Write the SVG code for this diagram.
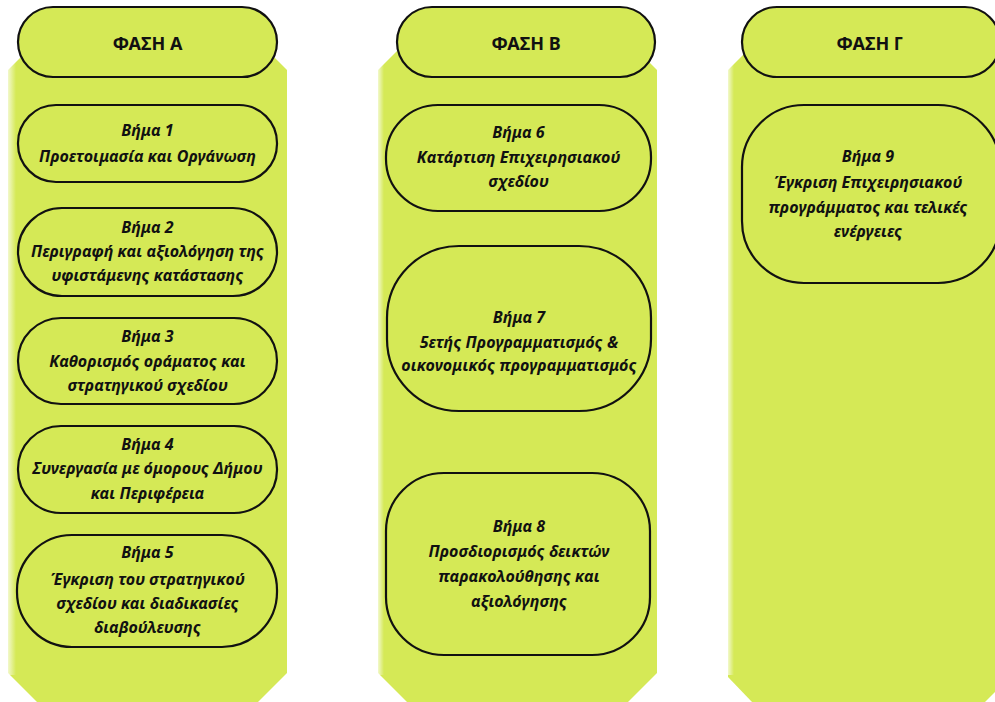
<svg xmlns="http://www.w3.org/2000/svg" width="995" height="702" viewBox="0 0 995 702">
<defs>
<linearGradient id="edge" x1="0" y1="0" x2="1" y2="0">
<stop offset="0" stop-color="#ffffff" stop-opacity="0.7"/>
<stop offset="1" stop-color="#ffffff" stop-opacity="0"/>
</linearGradient>
</defs>
<style>
.col{fill:#d5e956;}
.pill{fill:#d5e956;stroke:#111;stroke-width:2.2;}
.ph{font-family:"Noto Sans","Open Sans",sans-serif;font-weight:bold;font-size:18px;fill:#111;text-anchor:middle;}
.st{font-family:"Noto Sans","Open Sans",sans-serif;font-weight:bold;font-style:italic;font-size:16px;fill:#111;text-anchor:middle;}
</style>
<rect width="995" height="702" fill="#ffffff"/>
<g id="columns">
<polygon class="col" points="8,70 28,50 267,50 287,70 287,673 258,702 37,702 8,673"/>
<polygon class="col" points="378,70 398,50 637,50 657,70 657,673 628,702 407,702 378,673"/>
<polygon class="col" points="728,70 748,50 990,50 1010,70 1010,677 985,702 752,702 728,677"/>
<rect x="8" y="60" width="8" height="615" fill="url(#edge)"/>
<rect x="378" y="60" width="6" height="615" fill="url(#edge)"/>
<rect x="728" y="60" width="6" height="615" fill="url(#edge)"/>
</g>
<g id="connectors"></g>
<g id="phaseA"><rect class="pill" x="18" y="7" width="259" height="70" rx="35"/><text class="ph" x="147.5" y="50">ΦΑΣΗ Α</text></g>
<g id="phaseB"><rect class="pill" x="397" y="7" width="258" height="70" rx="35"/><text class="ph" x="526" y="50">ΦΑΣΗ Β</text></g>
<g id="phaseC"><rect class="pill" x="742" y="7" width="258" height="70" rx="35"/><text class="ph" x="870" y="50">ΦΑΣΗ Γ</text></g>
<g id="step1"><rect class="pill" x="18" y="105" width="259" height="77" rx="38"/>
<text class="st"><tspan x="147.5" y="136">Βήμα 1</tspan><tspan x="147.5" y="162">Προετοιμασία και Οργάνωση</tspan></text></g>
<g id="step2"><rect class="pill" x="18" y="208" width="259" height="88" rx="44"/>
<text class="st"><tspan x="147.5" y="233">Βήμα 2</tspan><tspan x="147.5" y="257">Περιγραφή και αξιολόγηση της</tspan><tspan x="147.5" y="281">υφιστάμενης κατάστασης</tspan></text></g>
<g id="step3"><rect class="pill" x="18" y="318" width="259" height="86" rx="43"/>
<text class="st"><tspan x="147.5" y="342">Βήμα 3</tspan><tspan x="147.5" y="367">Καθορισμός οράματος και</tspan><tspan x="147.5" y="391">στρατηγικού σχεδίου</tspan></text></g>
<g id="step4"><rect class="pill" x="18" y="426" width="259" height="87" rx="43"/>
<text class="st"><tspan x="147.5" y="450">Βήμα 4</tspan><tspan x="147.5" y="474">Συνεργασία με όμορους Δήμου</tspan><tspan x="147.5" y="499">και Περιφέρεια</tspan></text></g>
<g id="step5"><rect class="pill" x="17" y="535" width="260" height="112" rx="55"/>
<text class="st"><tspan x="147.5" y="558">Βήμα 5</tspan><tspan x="147.5" y="585">Έγκριση του στρατηγικού</tspan><tspan x="147.5" y="609">σχεδίου και διαδικασίες</tspan><tspan x="147.5" y="633">διαβούλευσης</tspan></text></g>
<g id="step6"><rect class="pill" x="386" y="105" width="265" height="106" rx="52"/>
<text class="st"><tspan x="518.5" y="138">Βήμα 6</tspan><tspan x="518.5" y="163">Κατάρτιση Επιχειρησιακού</tspan><tspan x="518.5" y="187">σχεδίου</tspan></text></g>
<g id="step7"><rect class="pill" x="387" y="246" width="264" height="165" rx="72"/>
<text class="st"><tspan x="519" y="323">Βήμα 7</tspan><tspan x="519" y="348">5ετής Προγραμματισμός &amp;</tspan><tspan x="519" y="371">οικονομικός προγραμματισμός</tspan></text></g>
<g id="step8"><rect class="pill" x="386" y="473" width="264" height="182" rx="58"/>
<text class="st"><tspan x="519" y="532">Βήμα 8</tspan><tspan x="519" y="557">Προσδιορισμός δεικτών</tspan><tspan x="519" y="582">παρακολούθησης και</tspan><tspan x="519" y="607">αξιολόγησης</tspan></text></g>
<g id="step9"><rect class="pill" x="742" y="105" width="258" height="178" rx="62"/>
<text class="st"><tspan x="868" y="162">Βήμα 9</tspan><tspan x="868" y="188">Έγκριση Επιχειρησιακού</tspan><tspan x="868" y="213">προγράμματος και τελικές</tspan><tspan x="868" y="237">ενέργειες</tspan></text></g>
</svg>
